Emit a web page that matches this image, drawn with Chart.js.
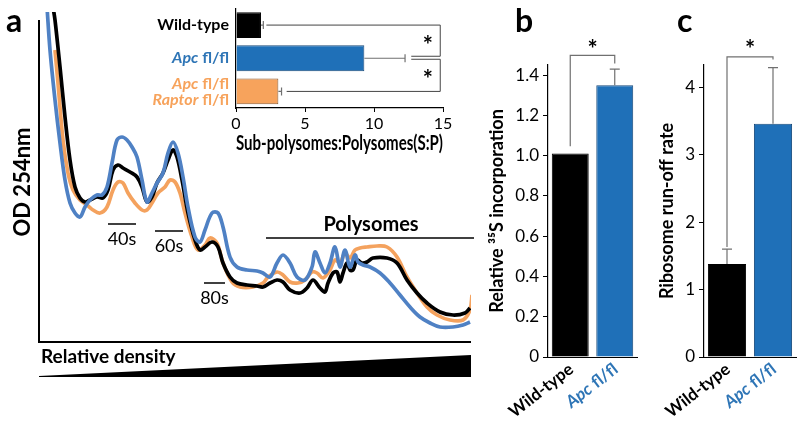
<!DOCTYPE html>
<html>
<head>
<meta charset="utf-8">
<script src="https://cdn.jsdelivr.net/npm/chart.js@4"></script>
<style>
  body { margin: 0; background: #fff; width: 800px; height: 431px; position: relative; overflow: hidden; }
  canvas { position: absolute; }
</style>
</head>
<body>
<canvas id="profile" width="480" height="431" style="left:0;top:0"></canvas>
<canvas id="ratio" width="380" height="160" style="left:100px;top:0"></canvas>
<canvas id="incorp" width="160" height="431" style="left:480px;top:0"></canvas>
<canvas id="runoff" width="160" height="431" style="left:640px;top:0"></canvas>
<script>
// panel a: polysome profiles (relative density vs OD 254nm, arbitrary units)
const wtX = [14, 16, 21, 26, 31, 36, 41, 46, 51, 58, 64, 69, 74, 79, 84, 91, 98, 103, 108, 113, 118, 124, 129, 134, 138, 143, 149, 156, 161, 166, 173, 179, 184, 191, 198, 208, 218, 224, 231, 238, 244, 251, 261, 268, 274, 281, 286, 289, 294, 298, 301, 304, 308, 311, 314, 318, 323, 328, 334, 348, 358, 368, 378, 388, 401, 414, 426, 431];
const wtY = [335, 322, 275, 225, 182, 155, 144, 140, 142, 145, 144, 152, 172, 177, 174, 170, 165, 155, 140, 145, 159, 169, 182, 192, 185, 162, 129, 102, 92, 95, 100, 95, 79, 65, 59, 57, 56, 55, 59, 62, 60, 52, 49, 54, 62, 54, 50, 59, 69, 70, 60, 69, 79, 72, 72, 82, 79, 80, 84, 84, 79, 62, 49, 39, 30, 27, 29, 34];

const apcX = [8, 11, 16, 21, 26, 31, 36, 41, 46, 51, 58, 63, 68, 73, 78, 83, 88, 93, 98, 103, 108, 113, 118, 124, 129, 134, 139, 144, 149, 156, 161, 166, 173, 179, 184, 191, 198, 208, 218, 224, 231, 238, 244, 251, 258, 266, 273, 276, 281, 286, 291, 296, 301, 306, 311, 316, 319, 324, 331, 341, 351, 361, 371, 381, 391, 401, 414, 424, 431];
const apcY = [335, 292, 242, 199, 162, 139, 129, 125, 135, 142, 147, 147, 155, 179, 202, 205, 202, 195, 185, 162, 140, 149, 159, 169, 189, 200, 189, 165, 135, 105, 100, 112, 129, 129, 115, 85, 75, 72, 71, 69, 65, 79, 87, 79, 65, 62, 75, 90, 79, 69, 79, 95, 75, 92, 75, 87, 80, 77, 75, 69, 59, 47, 35, 25, 19, 15, 15, 17, 20];

const raptorX = [16, 19, 24, 29, 34, 41, 48, 54, 61, 68, 74, 79, 84, 89, 96, 103, 108, 113, 119, 126, 131, 136, 141, 146, 153, 159, 166, 171, 178, 184, 193, 201, 214, 224, 229, 238, 244, 251, 259, 266, 273, 278, 284, 291, 296, 301, 306, 311, 316, 321, 328, 338, 348, 358, 368, 378, 388, 398, 411, 424, 431, 433];
const raptorY = [292, 259, 202, 169, 152, 142, 137, 132, 129, 135, 152, 160, 159, 149, 139, 132, 132, 139, 149, 155, 162, 160, 149, 129, 105, 92, 97, 104, 99, 79, 60, 55, 55, 59, 65, 70, 67, 60, 59, 62, 70, 69, 64, 72, 82, 79, 89, 84, 92, 94, 95, 96, 95, 85, 65, 49, 35, 27, 22, 22, 32, 47];

// panel a inset: sub-polysome to polysome ratio
const ratioGroups = ['Wild-type', 'Apc fl/fl', 'Apc fl/fl\nRaptor fl/fl'];
const ratioMeans = [1.81, 9.3, 3.07];
const ratioErrors = [0.17, 2.95, 0.23];
const ratioTicks = [0, 5, 10, 15];

// panel b: relative 35S incorporation
const incorpGroups = ['Wild-type', 'Apc fl/fl'];
const incorpMeans = [1.01, 1.35];
const incorpErrors = [0, 0.08];
const incorpTicks = [0, 0.2, 0.4, 0.6, 0.8, 1.0, 1.2, 1.4];

// panel c: ribosome run-off rate
const runoffGroups = ['Wild-type', 'Apc fl/fl'];
const runoffMeans = [1.38, 3.46];
const runoffErrors = [0.22, 0.83];
const runoffTicks = [0, 1, 2, 3, 4];

const FAMILY = 'Lato, "Open Sans", sans-serif';
Chart.defaults.font.family = FAMILY;
Chart.defaults.color = '#000';

const BLUE = '#1f70b8';
const ORANGE = '#f7a35c';
const LABEL_BLUE = '#2e75b6';

function pts(xs, ys) {
  return xs.map((x, i) => ({ x: x, y: ys[i] }));
}

// text with italic gene names, right end at (xr, y)
function richText(ctx, line, xr, y, size) {
  const words = line.split(' ');
  const fonts = words.map(w => (w === 'Apc' || w === 'Raptor' ? 'italic ' : '') + 'bold ' + size + 'px ' + FAMILY);
  let total = 0;
  words.forEach((w, j) => { ctx.font = fonts[j]; total += ctx.measureText((j ? ' ' : '') + w).width; });
  let px = xr - total;
  ctx.textAlign = 'left';
  words.forEach((w, j) => {
    ctx.font = fonts[j];
    const t = (j ? ' ' : '') + w;
    ctx.fillText(t, px, y);
    px += ctx.measureText(t).width;
  });
}

function errorBars(errs, cap) {
  return {
    id: 'errorBars',
    afterDatasetsDraw(chart) {
      const ctx = chart.ctx;
      const horiz = chart.options.indexAxis === 'y';
      const vs = horiz ? chart.scales.x : chart.scales.y;
      const vals = chart.data.datasets[0].data;
      ctx.save();
      ctx.strokeStyle = '#707070';
      ctx.lineWidth = 1.2;
      chart.getDatasetMeta(0).data.forEach((bar, i) => {
        if (!errs[i]) return;
        const p0 = vs.getPixelForValue(vals[i]);
        const p1 = vs.getPixelForValue(vals[i] + errs[i]);
        ctx.beginPath();
        if (horiz) {
          ctx.moveTo(p0, bar.y); ctx.lineTo(p1, bar.y);
          ctx.moveTo(p1, bar.y - cap); ctx.lineTo(p1, bar.y + cap);
        } else {
          ctx.moveTo(bar.x, p0); ctx.lineTo(bar.x, p1);
          ctx.moveTo(bar.x - cap, p1); ctx.lineTo(bar.x + cap, p1);
        }
        ctx.stroke();
      });
      ctx.restore();
    }
  };
}

function star(ctx, x, y) {
  ctx.save();
  ctx.font = 'bold 24px ' + FAMILY;
  ctx.fillStyle = '#000';
  ctx.textAlign = 'center';
  ctx.textBaseline = 'middle';
  ctx.fillText('*', x, y + 5);
  ctx.restore();
}

// bracket, rotated group labels and letter for panels b and c
function sigDecor(letter, topVal, leftVal, rightVal, starVal) {
  return {
    id: 'sigDecor',
    afterDraw(chart) {
      const ctx = chart.ctx;
      const ys = chart.scales.y;
      const bars = chart.getDatasetMeta(0).data;
      const xl = bars[0].x, xr = bars[1].x;
      ctx.save();
      ctx.strokeStyle = '#707070';
      ctx.lineWidth = 1.2;
      ctx.beginPath();
      ctx.moveTo(xl, ys.getPixelForValue(leftVal));
      ctx.lineTo(xl, ys.getPixelForValue(topVal));
      ctx.lineTo(xr, ys.getPixelForValue(topVal));
      ctx.lineTo(xr, ys.getPixelForValue(rightVal));
      ctx.stroke();
      star(ctx, (xl + xr) / 2, ys.getPixelForValue(starVal));

      ctx.textBaseline = 'middle';
      chart.data.labels.forEach((lab, i) => {
        ctx.save();
        ctx.translate(bars[i].x + 1, ys.bottom + 10);
        ctx.rotate(-38 * Math.PI / 180);
        ctx.fillStyle = i === 0 ? '#000' : LABEL_BLUE;
        richText(ctx, lab, 0, 0, 17);
        ctx.restore();
      });

      ctx.font = 'bold 32px ' + FAMILY;
      ctx.fillStyle = '#000';
      ctx.textAlign = 'left';
      ctx.textBaseline = 'alphabetic';
      ctx.fillText(letter, letter === 'b' ? 35 : 37, 32);
      ctx.restore();
    }
  };
}

const profileDecor = {
  id: 'profileDecor',
  afterDraw(chart) {
    const { ctx, chartArea: a, scales: { x, y } } = chart;
    ctx.save();
    ctx.strokeStyle = '#000';
    ctx.fillStyle = '#000';
    ctx.lineWidth = 2;
    ctx.beginPath();
    ctx.moveTo(a.left, y.getPixelForValue(322));
    ctx.lineTo(a.left, a.bottom);
    ctx.lineTo(a.right, a.bottom);
    ctx.stroke();

    ctx.lineWidth = 1.5;
    ctx.textAlign = 'center';
    ctx.textBaseline = 'middle';
    ctx.font = '18px ' + FAMILY;
    [['40s', 69, 97, 118], ['60s', 116, 144, 111], ['80s', 165, 186, 59]].forEach(m => {
      const py = y.getPixelForValue(m[3]);
      ctx.beginPath();
      ctx.moveTo(x.getPixelForValue(m[1]), py);
      ctx.lineTo(x.getPixelForValue(m[2]), py);
      ctx.stroke();
      ctx.fillText(m[0], x.getPixelForValue((m[1] + m[2]) / 2), py + 15);
    });

    const polyY = y.getPixelForValue(104);
    ctx.beginPath();
    ctx.moveTo(x.getPixelForValue(227), polyY);
    ctx.lineTo(x.getPixelForValue(435), polyY);
    ctx.stroke();
    ctx.font = 'bold 20px ' + FAMILY;
    ctx.fillText('Polysomes', x.getPixelForValue(332), polyY - 13);

    ctx.save();
    ctx.translate(23, 182);
    ctx.rotate(-Math.PI / 2);
    ctx.font = 'bold 22px ' + FAMILY;
    ctx.fillText('OD 254nm', 0, 0);
    ctx.restore();

    ctx.textAlign = 'left';
    ctx.font = 'bold 19px ' + FAMILY;
    ctx.fillText('Relative density', a.left + 2, 357);

    ctx.beginPath();
    ctx.moveTo(a.left, 376);
    ctx.lineTo(a.right, 355);
    ctx.lineTo(a.right, 377);
    ctx.lineTo(a.left, 377);
    ctx.closePath();
    ctx.fill();

    ctx.font = 'bold 32px ' + FAMILY;
    ctx.textBaseline = 'alphabetic';
    ctx.fillText('a', 6, 32);
    ctx.restore();
  }
};

new Chart(document.getElementById('profile'), {
  type: 'line',
  data: {
    datasets: [
      { label: 'Apc fl/fl', data: pts(apcX, apcY), borderColor: '#4f81c4' },
      { label: 'Wild-type', data: pts(wtX, wtY), borderColor: '#000' },
      { label: 'Apc fl/fl Raptor fl/fl', data: pts(raptorX, raptorY), borderColor: '#f4a25e' }
    ]
  },
  options: {
    responsive: false,
    animation: false,
    elements: { point: { radius: 0 }, line: { borderWidth: 3.7, tension: 0.35 } },
    layout: { padding: { left: 39, top: 12, right: 9, bottom: 89 } },
    scales: {
      x: { type: 'linear', min: 0, max: 432, display: false },
      y: { min: 0, max: 330, display: false }
    },
    plugins: { legend: { display: false }, tooltip: { enabled: false } }
  },
  plugins: [profileDecor]
});

const ratioDecor = {
  id: 'ratioDecor',
  afterDraw(chart) {
    const { ctx, scales: { x, y } } = chart;
    const colors = ['#000', LABEL_BLUE, ORANGE];
    ctx.save();
    ctx.textBaseline = 'middle';
    ratioGroups.forEach((g, i) => {
      const lines = g.split('\n');
      const cy = y.getPixelForValue(i);
      ctx.fillStyle = colors[i];
      lines.forEach((line, k) => {
        richText(ctx, line, x.left - 7, cy + (k - (lines.length - 1) / 2) * 16, 16);
      });
    });

    const y0 = y.getPixelForValue(0), y1 = y.getPixelForValue(1), y2 = y.getPixelForValue(2);
    const xr = x.getPixelForValue(14.8);
    ctx.strokeStyle = '#444';
    ctx.lineWidth = 1;
    ctx.beginPath();
    ctx.moveTo(x.getPixelForValue(2.2), y0);
    ctx.lineTo(xr, y0);
    ctx.lineTo(xr, y1 - 2);
    ctx.lineTo(x.getPixelForValue(12.7), y1 - 2);
    ctx.moveTo(x.getPixelForValue(12.7), y1 + 1);
    ctx.lineTo(xr, y1 + 1);
    ctx.lineTo(xr, y2);
    ctx.lineTo(x.getPixelForValue(3.67), y2);
    ctx.stroke();
    star(ctx, x.getPixelForValue(13.9), (y0 + y1) / 2);
    star(ctx, x.getPixelForValue(13.9), (y1 + y2) / 2);
    ctx.restore();
  }
};

new Chart(document.getElementById('ratio'), {
  type: 'bar',
  data: {
    labels: ratioGroups,
    datasets: [{
      data: ratioMeans,
      backgroundColor: ['#000', BLUE, ORANGE],
      borderColor: ['#000', '#1a4a78', '#8a5a30'],
      borderWidth: 1,
      barPercentage: 0.78,
      categoryPercentage: 1
    }]
  },
  options: {
    indexAxis: 'y',
    responsive: false,
    animation: false,
    layout: { padding: { left: 136, top: 8.5, right: 37, bottom: 0 } },
    scales: {
      x: {
        min: 0, max: 15,
        afterBuildTicks(s) { s.ticks = ratioTicks.map(v => ({ value: v })); },
        ticks: { font: { size: 16 }, color: '#000', padding: 2 },
        grid: { drawOnChartArea: false, tickLength: 4, color: '#000' },
        border: { color: '#000', width: 1.2 },
        title: { display: true, text: 'Sub-polysomes:Polysomes(S:P)', font: { size: 20, weight: 'bold' }, color: '#000', padding: { top: 0, bottom: 4 } },
        afterFit(s) { s.height = 52; }
      },
      y: {
        ticks: { display: false },
        grid: { display: false },
        border: { color: '#000', width: 1.2 },
        afterFit(s) { s.width = 0; }
      }
    },
    plugins: { legend: { display: false }, tooltip: { enabled: false } }
  },
  plugins: [errorBars(ratioErrors, 4), ratioDecor]
});

function groupBars(id, groups, means, errs, ticks, max, title, titlePad, fmt, yWidth, padRight, deco) {
  new Chart(document.getElementById(id), {
    type: 'bar',
    data: {
      labels: groups,
      datasets: [{
        data: means,
        backgroundColor: ['#000', BLUE],
        borderColor: ['#000', '#17497a'],
        borderWidth: 1,
        barPercentage: 0.83,
        categoryPercentage: 1
      }]
    },
    options: {
      responsive: false,
      animation: false,
      layout: { padding: { left: 0, top: 65, right: padRight, bottom: 0 } },
      scales: {
        x: {
          grid: { display: false, drawTicks: false },
          border: { color: '#000', width: 1 },
          ticks: { display: false },
          afterFit(s) { s.height = 74; }
        },
        y: {
          min: 0, max: max,
          afterBuildTicks(s) { s.ticks = ticks.map(v => ({ value: v })); },
          ticks: { callback: fmt, font: { size: 17 }, color: '#000', padding: 4 },
          grid: { drawOnChartArea: false, tickLength: 5, color: '#000' },
          border: { color: '#000', width: 1.2 },
          title: { display: true, text: title, font: { size: 18, weight: 'bold' }, color: '#000', padding: { top: titlePad, bottom: 0 } },
          afterFit(s) { s.width = yWidth; }
        }
      },
      plugins: { legend: { display: false }, tooltip: { enabled: false } }
    },
    plugins: [errorBars(errs, 5), deco]
  });
}

groupBars('incorp', incorpGroups, incorpMeans, incorpErrors, incorpTicks, 1.45,
  'Relative \u00b3\u2075S incorporation', 6, v => (v === 0 ? '0' : v.toFixed(1)), 68, 3,
  sigDecor('b', 1.498, 1.047, 1.458, 1.55));

groupBars('runoff', runoffGroups, runoffMeans, runoffErrors, runoffTicks, 4.33,
  'Ribosome run-off rate', 16, v => String(v), 64, 4,
  sigDecor('c', 4.45, 1.63, 4.41, 4.63));
</script>
</body>
</html>
